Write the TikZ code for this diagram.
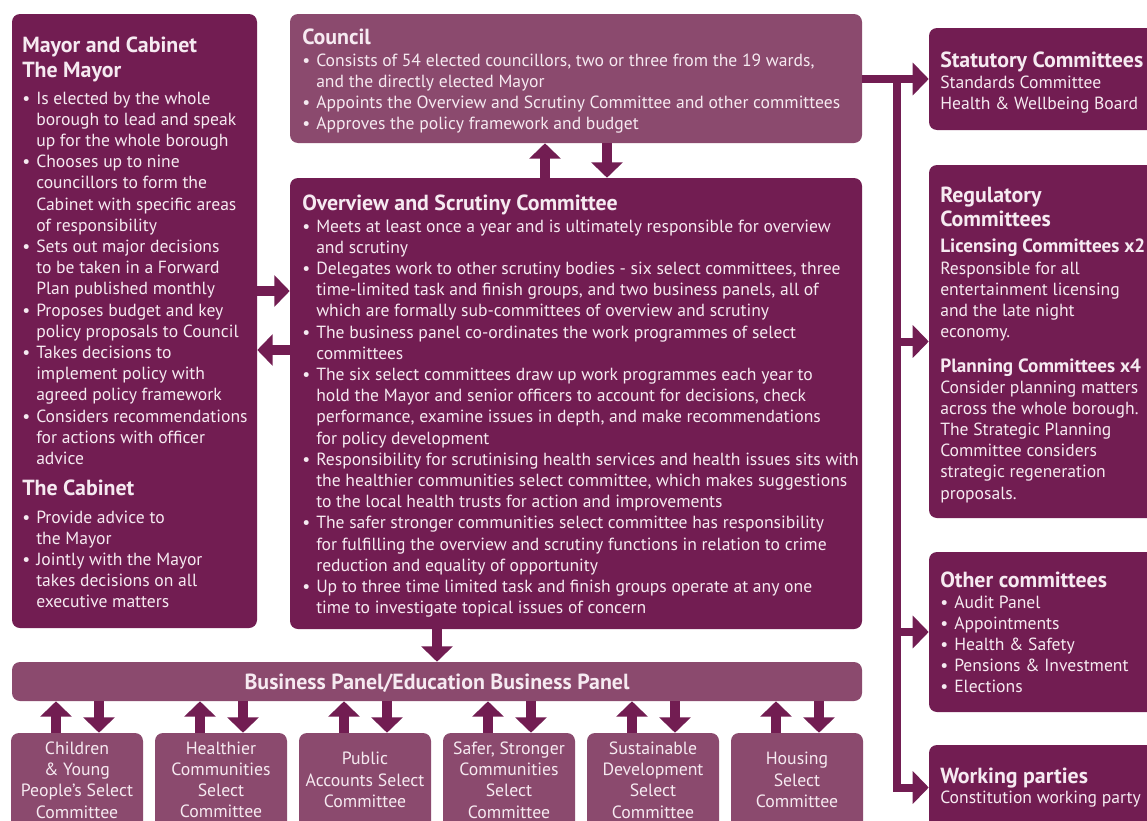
\documentclass[tikz,border=0pt]{standalone}
\usepackage{fontspec}
\setmainfont{PT Sans}
\usetikzlibrary{arrows.meta,fit}
\definecolor{dark}{HTML}{721D52}
\definecolor{light}{HTML}{8B4A6E}
\definecolor{ink}{HTML}{F6EAF1}
\newcommand{\bodyfont}{\fontsize{13.2}{15.9}\selectfont}
\newcommand{\headfont}{\fontsize{16.4}{18.75}\selectfont\bfseries}
\newcommand{\subfont}{\fontsize{14.4}{15.9}\selectfont\bfseries}
\newcommand{\bul}{\textbullet}
\newcommand{\blist}[1]{\begin{tabular}[t]{@{}p{10.5pt}@{}l@{}}#1\end{tabular}}
\newcommand{\plist}[1]{\begin{tabular}[t]{@{}l@{}}#1\end{tabular}}
\tikzset{
  dbox/.style={fill=dark, rounded corners=6pt, inner sep=0pt, draw=none},
  lbox/.style={fill=light, rounded corners=6pt, inner sep=0pt, draw=none},
  tx/.style={text=ink, inner sep=0pt, anchor=base west, font=\bodyfont},
  hd/.style={text=ink, inner sep=0pt, anchor=base west, font=\headfont},
  sel/.style={text=ink, inner sep=0pt, align=center, font=\fontsize{13.3}{15.9}\selectfont},
  arr/.style={draw=dark, line width=7.5pt, -{Triangle[width=23pt,length=11.5pt]}},
  rarr/.style={draw=dark, line width=6pt, line join=miter, -{Triangle[width=24pt,length=12pt]}},
}
\begin{document}
\begin{tikzpicture}[x=0.75pt,y=-0.75pt]
\useasboundingbox (0,0) rectangle (1147,821);
\clip (0,0) rectangle (1147,821);
\fill[white] (0,0) rectangle (1147,821);
% boxes
\node[dbox, fit={(12,14) (257,628)}] (mayor) {};
\node[lbox, fit={(290,14) (862,143)}] (council) {};
\node[dbox, fit={(290,178) (862,629)}] (os) {};
\node[lbox, fit={(12,662) (862,701)}] (bp) {};
\node[dbox, fit={(929,28) (1170,130)}] (stat) {};
\node[dbox, fit={(929,165) (1170,518)}] (reg) {};
\node[dbox, fit={(929,552) (1170,712)}] (other) {};
\node[dbox, fit={(929,745) (1170,830)}] (work) {};
\foreach \n/\c in {s1/77,s2/221,s3/365,s4/509,s5/653,s6/797}{
  \node[lbox, fit={(\c-66,733) (\c+66,840)}] (\n) {};
}
% Mayor text
\node[hd] (mayorH) at (22,52) {\plist{Mayor and Cabinet\\The Mayor}};
\node[tx] (mayorL) at (22,104) {\blist{
\bul & Is elected by the whole\\ & borough to lead and speak\\ & up for the whole borough\\
\bul & Chooses up to nine\\ & councillors to form the\\ & Cabinet with specific areas\\ & of responsibility\\
\bul & Sets out major decisions\\ & to be taken in a Forward\\ & Plan published monthly\\
\bul & Proposes budget and key\\ & policy proposals to Council\\
\bul & Takes decisions to\\ & implement policy with\\ & agreed policy framework\\
\bul & Considers recommendations\\ & for actions with officer\\ & advice}};
\node[hd] (cabH) at (22,495) {The Cabinet};
\node[tx] (cabL) at (22,523) {\blist{
\bul & Provide advice to\\ & the Mayor\\
\bul & Jointly with the Mayor\\ & takes decisions on all\\ & executive matters}};
% Council text
\node[hd] (councilH) at (302,45) {Council};
\node[tx] (councilL) at (302,66) {\blist{
\bul & Consists of 54 elected councillors, two or three from the 19 wards,\\ & and the directly elected Mayor\\
\bul & Appoints the Overview and Scrutiny Committee and other committees\\
\bul & Approves the policy framework and budget}};
% O&S text
\node[hd] (osH) at (302,210) {Overview and Scrutiny Committee};
\node[tx] (osL) at (302,232) {\blist{
\bul & Meets at least once a year and is ultimately responsible for overview\\ & and scrutiny\\
\bul & Delegates work to other scrutiny bodies - six select committees, three\\ & time-limited task and finish groups, and two business panels, all of\\ & which are formally sub-committees of overview and scrutiny\\
\bul & The business panel co-ordinates the work programmes of select\\ & committees\\
\bul & The six select committees draw up work programmes each year to\\ & hold the Mayor and senior officers to account for decisions, check\\ & performance, examine issues in depth, and make recommendations\\ & for policy development\\
\bul & Responsibility for scrutinising health services and health issues sits with\\ & the healthier communities select committee, which makes suggestions\\ & to the local health trusts for action and improvements\\
\bul & The safer stronger communities select committee has responsibility\\ & for fulfilling the overview and scrutiny functions in relation to crime\\ & reduction and equality of opportunity\\
\bul & Up to three time limited task and finish groups operate at any one\\ & time to investigate topical issues of concern}};
% Business panel
\node[text=ink, inner sep=0pt, font=\fontsize{16.4}{18}\selectfont\bfseries] (bpT) at (437,683) {Business Panel/Education Business Panel};
% select committees
\node[sel] (t1) at (77,780) {Children\\\& Young\\People’s Select\\Committee};
\node[sel] (t2) at (221,780) {Healthier\\Communities\\Select\\Committee};
\node[sel] (t3) at (365,780) {Public\\Accounts Select\\Committee};
\node[sel] (t4) at (509,780) {Safer, Stronger\\Communities\\Select\\Committee};
\node[sel] (t5) at (653,780) {Sustainable\\Development\\Select\\Committee};
\node[sel] (t6) at (797,780) {Housing\\Select\\Committee};
% right texts
\node[hd] (statH) at (940,67) {Statutory Committees};
\node[tx] (statL) at (940,88) {\plist{Standards Committee\\Health \& Wellbeing Board}};
\node[hd] (regH) at (940,202) {\begin{tabular}[t]{@{}l@{}}Regulatory\\[-0.3pt]Committees\end{tabular}};
\node[tx, font=\subfont] (licH) at (940,252) {Licensing Committees x2};
\node[tx] (licL) at (940,274) {\plist{Responsible for all\\entertainment licensing\\and the late night\\economy.}};
\node[tx, font=\subfont] (plH) at (940,372) {Planning Committees x4};
\node[tx] (plL) at (940,393) {\plist{Consider planning matters\\across the whole borough.\\The Strategic Planning\\Committee considers\\strategic regeneration\\proposals.}};
\node[hd] (othH) at (940,587) {Other committees};
\node[tx] (othL) at (940,608) {\blist{\bul & Audit Panel\\ \bul & Appointments\\ \bul & Health \& Safety\\ \bul & Pensions \& Investment\\ \bul & Elections}};
\node[hd] (wkH) at (940,783) {Working parties};
\node[tx] (wkL) at (940,803) {Constitution working party};
% connectors
\coordinate (y291) at (0,291);
\coordinate (y350) at (0,350);
\coordinate (xup) at (545,0);
\coordinate (xdn) at (607,0);
\coordinate (tr) at (897,0);
\draw[arr] (os.north -| xup) -- (council.south -| xup);
\draw[arr] (council.south -| xdn) -- (os.north -| xdn);
\draw[arr] (mayor.east |- y291) -- (os.west |- y291);
\draw[arr] (os.west |- y350) -- (mayor.east |- y350);
\draw[arr] (os.south -| bp.north) -- (bp.north);
\foreach \n/\c in {s1/77,s2/221,s3/365,s4/509,s5/653,s6/797}{
  \coordinate (u\n) at (\c-21,0);
  \coordinate (d\n) at (\c+22,0);
  \draw[arr] (\n.north -| u\n) -- (bp.south -| u\n);
  \draw[arr] (bp.south -| d\n) -- (\n.north -| d\n);
}
\draw[rarr] (council.east |- stat.west) -- (stat.west);
\draw[rarr] ([yshift=3pt]tr |- stat.west) |- (work.west);
\draw[rarr] (tr |- reg.west) -- (reg.west);
\draw[rarr] (tr |- other.west) -- (other.west);
\end{tikzpicture}
\end{document}
